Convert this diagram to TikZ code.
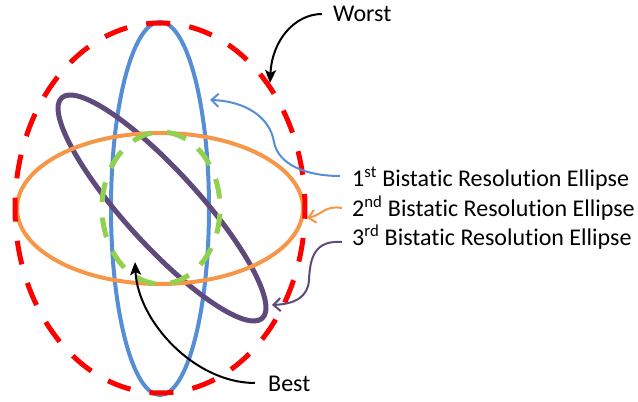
\documentclass[tikz,border=0pt]{standalone}
\usepackage{fontspec}
\setmainfont{Carlito}[Ligatures=NoCommon, RawFeature={-liga;-clig;-dlig}]
\usetikzlibrary{arrows.meta}
\definecolor{cred}{RGB}{255,0,0}
\definecolor{cblue}{RGB}{85,142,213}
\definecolor{corange}{RGB}{247,150,70}
\definecolor{cpurple}{RGB}{96,74,123}
\definecolor{cgreen}{RGB}{146,208,80}
\begin{document}
\begin{tikzpicture}[x=1pt,y=1pt,
  lbl/.style={font=\fontsize{24}{28}\selectfont, inner sep=0pt, anchor=base west},
  openarrow/.style={-{Straight Barb[length=7pt,width=13pt]}, line width=2pt},
  blackarrow/.style={-{Stealth[length=13pt,width=11pt,inset=3pt]}, line width=2pt, black},
  reddash/.style={draw=cred, line width=5pt, dash pattern=on 24pt off 19.33pt, dash phase=10pt},
  greendash/.style={draw=cgreen, line width=5pt, dash pattern=on 20pt off 15.5pt, dash phase=26pt}]
\useasboundingbox (0,0) rectangle (638,402);
% ellipses
\draw[cblue, line width=4pt] (160,193.5) ellipse [x radius=49pt, y radius=186.5pt];
\draw[cpurple, line width=5pt, rotate around={-47.7:(162,194)}] (162,194) ellipse [x radius=149pt, y radius=37pt];
\draw[corange, line width=4pt] (160,193.5) ellipse [x radius=143pt, y radius=75.5pt];
\path[greendash] (161,194) ellipse [x radius=59pt, y radius=76pt];
\path[reddash] (160,194) ellipse [x radius=145pt, y radius=185pt];
% labels
\node[lbl] (worst) at (333,380) {Worst};
\node[lbl] (e1) at (352,215) {1\textsuperscript{st} Bistatic Resolution Ellipse};
\node[lbl] (e2) at (352,185) {2\textsuperscript{nd} Bistatic Resolution Ellipse};
\node[lbl] (e3) at (352,156) {3\textsuperscript{rd} Bistatic Resolution Ellipse};
\node[lbl] (best) at (268,10) {Best};
% tips
\coordinate (tw) at (270,319);
\coordinate (t1) at (210,302);
\coordinate (t2) at (307,184);
\coordinate (t3) at (272,97);
\coordinate (tb) at (135,140);
% connectors
\draw[blackarrow] ([xshift=-11pt,yshift=8pt]worst.base west) .. controls (295,388) and (272,362) .. (tw);
\draw[openarrow, cblue] ([xshift=-12pt,yshift=11pt]e1.base west) .. controls (305,226) and (278,238) .. (274,260) .. controls (270,285) and (245,301) .. (t1);
\draw[openarrow, corange] ([xshift=-10pt,yshift=9pt]e2.base west) .. controls (325,197) and (322,187) .. (t2);
\draw[openarrow, cpurple] ([xshift=-10pt,yshift=4pt]e3.base west) .. controls (315,162) and (310,145) .. (309,122) .. controls (308,105) and (295,98) .. (t3);
\draw[blackarrow] ([xshift=-13pt,yshift=9pt]best.base west) .. controls (195,19) and (138,80) .. (tb);
\end{tikzpicture}
\end{document}
